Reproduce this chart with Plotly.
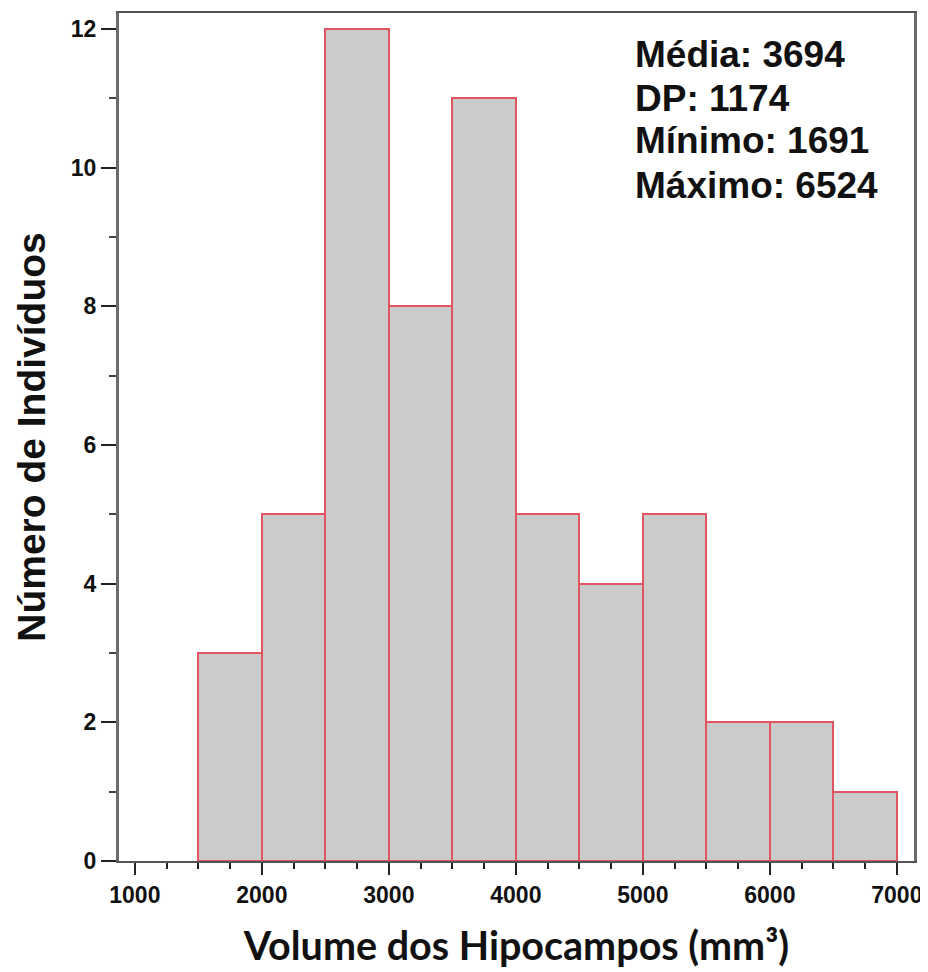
import plotly.graph_objects as go

# Data
bin_starts = [1500, 2000, 2500, 3000, 3500, 4000, 4500, 5000, 5500, 6000, 6500]
counts = [3, 5, 12, 8, 11, 5, 4, 5, 2, 2, 1]
bin_width = 500
x_ticks = [1000, 2000, 3000, 4000, 5000, 6000, 7000]
y_ticks = [0, 2, 4, 6, 8, 10, 12]
stats_lines = ["Média: 3694", "DP: 1174", "Mínimo: 1691", "Máximo: 6524"]

centers = [s + bin_width / 2 for s in bin_starts]

fig = go.Figure()
fig.add_trace(go.Bar(
    x=centers,
    y=counts,
    width=bin_width,
    marker=dict(color="#cbcbcb", line=dict(color="#e4545e", width=2)),
    hoverinfo="x+y",
))

tick_font = dict(family="Liberation Sans, Arial, sans-serif", size=23, color="#111", weight="bold")

# page body has an 8px default margin, so the figure is sized/placed to compensate
fig.update_layout(
    width=920,
    height=964,
    margin=dict(l=111, r=14, t=5, b=111),
    paper_bgcolor="white",
    plot_bgcolor="white",
    showlegend=False,
    bargap=0,
    xaxis=dict(
        range=[875, 7135],
        automargin=False,
        tickvals=x_ticks,
        ticktext=[str(v) for v in x_ticks],
        ticks="outside",
        ticklen=12,
        tickwidth=2,
        tickcolor="#222",
        minor=dict(dtick=250, tick0=0, ticks="outside", ticklen=6, tickwidth=2, tickcolor="#222", showgrid=False),
        showline=True,
        linecolor="#555",
        linewidth=2,
        mirror=True,
        showgrid=False,
        zeroline=False,
        tickfont=tick_font,
        title=dict(text="Volume dos Hipocampos (mm³)",
                   font=dict(family="Lato, Open Sans, sans-serif", size=39.5, color="#111", weight="bold"),
                   standoff=26),
    ),
    yaxis=dict(
        range=[0, 12.23],
        automargin=False,
        tickvals=y_ticks,
        ticks="outside",
        ticklen=15,
        tickwidth=2,
        tickcolor="#222",
        minor=dict(dtick=1, tick0=0, ticks="outside", ticklen=7, tickwidth=2, tickcolor="#444", showgrid=False),
        showline=True,
        linecolor="#6a6a6a",
        linewidth=3,
        mirror=True,
        showgrid=False,
        zeroline=False,
        tickfont=tick_font,
        title=dict(text="Número de Indivíduos",
                   font=dict(family="Liberation Sans, Arial, sans-serif", size=39, color="#111", weight="bold"),
                   standoff=14),
    ),
)

# Statistics box text, one line per annotation
y_positions = [54, 98, 141, 185]  # pixel centres from top of page
for line, ypx in zip(stats_lines, y_positions):
    fig.add_annotation(
        x=(633 - 119) / 795,
        y=1 - (ypx - 13) / 848,
        xref="paper",
        yref="paper",
        xanchor="left",
        yanchor="middle",
        text=line,
        showarrow=False,
        font=dict(family="Liberation Sans, Arial, sans-serif", size=37, color="#111", weight="bold"),
    )

fig.write_html("out.html")
